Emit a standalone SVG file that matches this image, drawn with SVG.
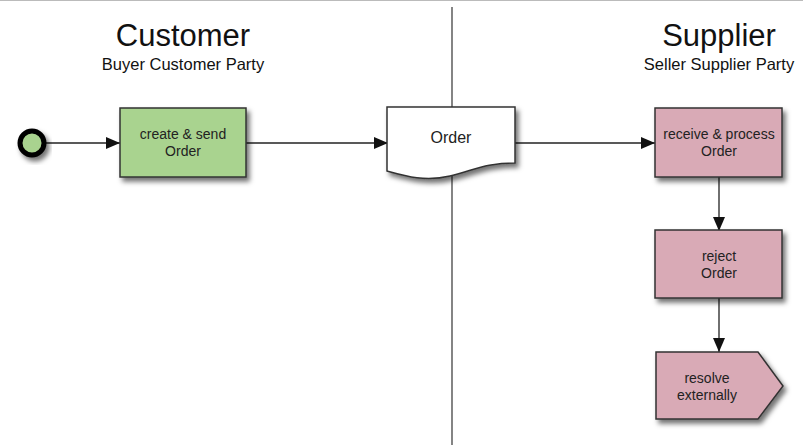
<svg xmlns="http://www.w3.org/2000/svg" width="803" height="445" viewBox="0 0 803 445">
<style>
.title{font-family:"Liberation Sans",Arial,sans-serif;font-size:31px;fill:#111;text-anchor:middle}
.sub{font-family:"Liberation Sans",Arial,sans-serif;font-size:16.5px;fill:#111;text-anchor:middle}
.lbl{font-family:"Liberation Sans",Arial,sans-serif;font-size:14px;fill:#222;text-anchor:middle}
.box{stroke:#333;stroke-width:1.5}
.green{fill:#a9d38f}
.pink{fill:#d9aab6}
.conn{stroke:#222;stroke-width:1.3;fill:none}
</style>
<defs>
<filter id="sh" x="-20%" y="-20%" width="150%" height="160%">
<feDropShadow dx="3" dy="4" stdDeviation="2.5" flood-color="#000" flood-opacity="0.55"/>
</filter>
<marker id="arr" markerWidth="14" markerHeight="12" refX="14" refY="6" orient="auto" markerUnits="userSpaceOnUse">
<path d="M0,0 L14,6 L0,12 Z" fill="#111"/>
</marker>
</defs>
<rect width="803" height="445" fill="#fff"/>
<line x1="0" y1="0.5" x2="803" y2="0.5" stroke="#bbb" stroke-width="1"/>
<g id="lane-divider"><line x1="452" y1="7" x2="452" y2="445" stroke="#333" stroke-width="1.2"/></g>
<g id="lane-customer">
<text class="title" x="183" y="46">Customer</text>
<text class="sub" x="183" y="70">Buyer Customer Party</text>
</g>
<g id="lane-supplier">
<text class="title" x="719" y="46">Supplier</text>
<text class="sub" x="719" y="70">Seller Supplier Party</text>
</g>
<g id="connectors">
<line class="conn" x1="45" y1="143" x2="120" y2="143" marker-end="url(#arr)"/>
<line class="conn" x1="246" y1="143" x2="388" y2="143" marker-end="url(#arr)"/>
<line class="conn" x1="515" y1="143" x2="655" y2="143" marker-end="url(#arr)"/>
<line class="conn" x1="719" y1="177" x2="719" y2="231" marker-end="url(#arr)"/>
<line class="conn" x1="719" y1="298" x2="719" y2="352" marker-end="url(#arr)"/>
</g>
<g id="start">
<circle cx="32" cy="143" r="12" fill="#a9d38f" stroke="#000" stroke-width="5" filter="url(#sh)"/>
</g>
<g id="create-send">
<rect class="box green" x="120" y="108" width="126" height="69" filter="url(#sh)"/>
<text class="lbl" x="183" y="139">create &amp; send</text>
<text class="lbl" x="183" y="156">Order</text>
</g>
<g id="order-doc">
<path class="box" d="M387,107 L515,107 L515,163 C485,163 475,170 450,176 C425,182 405,176 387,171 Z" fill="#fff" filter="url(#sh)"/>
<text class="lbl" x="451" y="143" style="font-size:16px">Order</text>
</g>
<g id="receive-process">
<rect class="box pink" x="655" y="108" width="127" height="69" filter="url(#sh)"/>
<text class="lbl" x="719" y="139">receive &amp; process</text>
<text class="lbl" x="719" y="156">Order</text>
</g>
<g id="reject">
<rect class="box pink" x="655" y="230" width="127" height="68" filter="url(#sh)"/>
<text class="lbl" x="719" y="261">reject</text>
<text class="lbl" x="719" y="278">Order</text>
</g>
<g id="resolve">
<path class="box pink" d="M656,352 L758,352 L783,386 L758,419 L656,419 Z" filter="url(#sh)"/>
<text class="lbl" x="707" y="383">resolve</text>
<text class="lbl" x="707" y="400">externally</text>
</g>
</svg>
